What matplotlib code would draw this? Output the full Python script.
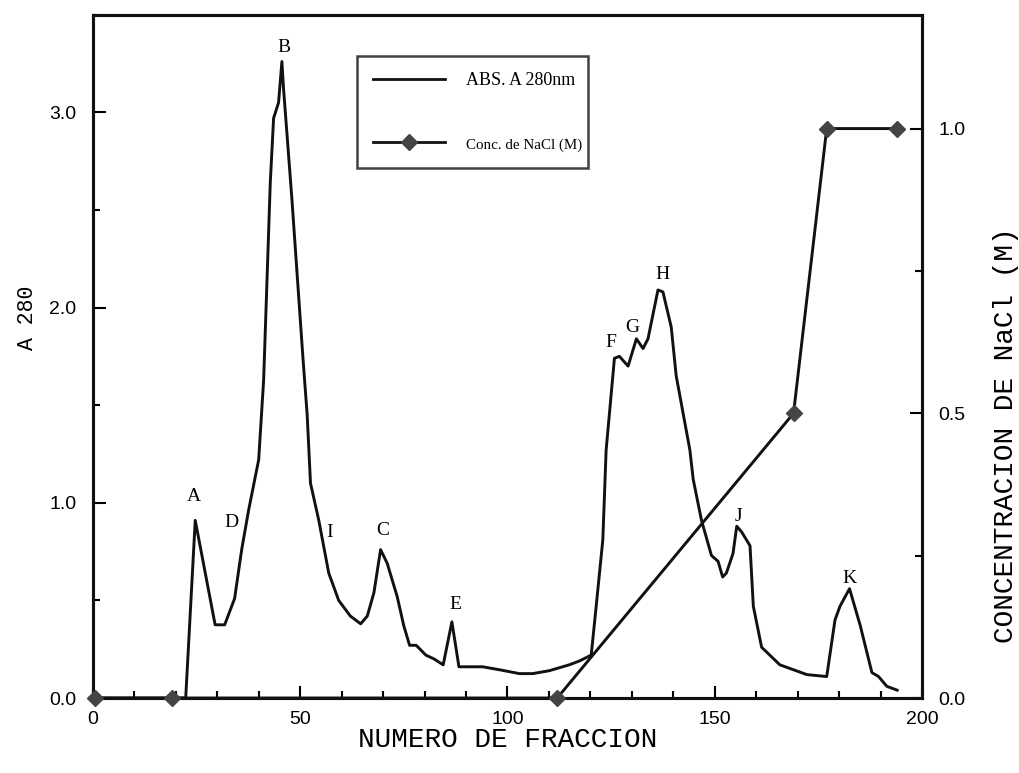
import matplotlib
matplotlib.use("Agg")
import matplotlib.pyplot as plt
from matplotlib.ticker import MultipleLocator, FormatStrFormatter
from matplotlib.lines import Line2D

# --- data ---
fraccion = [0, 22.4, 24.7, 29.5, 31.8, 34.2, 35.9, 37.6, 40.0, 41.2, 42.8, 43.6,
            44.8, 45.6, 46.0, 48.0, 50.7, 51.7, 52.5, 54.5, 56.9, 59.3, 62.1, 64.6,
            66.2, 67.8, 69.4, 71.0, 73.4, 75.0, 76.4, 78.0, 80.3, 82.3, 84.5, 86.6,
            88.3, 94.0, 98.0, 102.9, 106.1, 110.1, 114.9, 117.4, 120.2, 121.4, 123.0,
            123.8, 125.8, 127.0, 129.1, 131.1, 132.7, 133.9, 136.3, 137.5, 139.5,
            140.7, 144.0, 144.8, 146.8, 149.2, 150.8, 151.9, 152.8, 154.4, 155.3,
            156.5, 158.5, 159.3, 161.3, 165.7, 172.2, 177.0, 179.0, 180.2, 182.5,
            185.1, 187.9, 189.5, 191.5, 194.0]
abs280 = [0.0, 0.0, 0.91, 0.375, 0.375, 0.51, 0.76, 0.965, 1.22, 1.63, 2.64, 2.97,
          3.05, 3.26, 3.12, 2.56, 1.735, 1.45, 1.10, 0.91, 0.64, 0.50, 0.42, 0.38,
          0.42, 0.54, 0.76, 0.69, 0.52, 0.37, 0.27, 0.27, 0.22, 0.20, 0.17, 0.39,
          0.16, 0.16, 0.145, 0.125, 0.125, 0.14, 0.17, 0.19, 0.22, 0.47, 0.81,
          1.27, 1.74, 1.75, 1.70, 1.84, 1.79, 1.84, 2.09, 2.08, 1.90,
          1.65, 1.27, 1.12, 0.91, 0.73, 0.70, 0.62, 0.64, 0.74, 0.88,
          0.85, 0.78, 0.47, 0.26, 0.17, 0.12, 0.11, 0.40, 0.47, 0.56,
          0.37, 0.13, 0.11, 0.06, 0.04]

nacl_frac = [0.5, 19, 112, 169, 177, 194]
nacl_conc = [0.0, 0.0, 0.0, 0.5, 1.0, 1.0]

peak_labels = ["A", "B", "C", "D", "E", "F", "G", "H", "I", "J", "K"]
peak_x = [24.3, 46.0, 70.0, 33.5, 87.4, 124.9, 130.2, 137.4, 57.2, 155.8, 182.5]
peak_y = [1.03, 3.33, 0.86, 0.90, 0.48, 1.82, 1.90, 2.17, 0.85, 0.93, 0.61]

x_ticks = [0, 50, 100, 150, 200]
left_ticks = [0.0, 1.0, 2.0, 3.0]
right_ticks = [0.0, 0.5, 1.0]

serif = ["Liberation Serif", "DejaVu Serif"]
sans = ["Liberation Sans", "DejaVu Sans"]
mono = ["Liberation Mono", "DejaVu Sans Mono"]

fig = plt.figure(figsize=(10.2, 7.73), dpi=100)
ax = fig.add_axes([0.091, 0.097, 0.813, 0.884])
ax2 = ax.twinx()

ax.plot(fraccion, abs280, color="#111111", lw=2.1, solid_joinstyle="round")
ax2.plot(nacl_frac, nacl_conc, color="#111111", lw=2.1, marker="D",
         markersize=8, markerfacecolor="#444444", markeredgecolor="#444444",
         clip_on=False, zorder=5)

ax.set_xlim(0, 200)
ax.set_ylim(0, 3.5)
ax2.set_ylim(0, 1.2)

ax.set_xticks(x_ticks)
ax.xaxis.set_minor_locator(MultipleLocator(10))
ax.set_yticks(left_ticks)
ax.yaxis.set_minor_locator(MultipleLocator(0.5))
ax.yaxis.set_major_formatter(FormatStrFormatter("%.1f"))
ax2.set_yticks(right_ticks)
ax2.yaxis.set_minor_locator(MultipleLocator(0.25))
ax2.yaxis.set_major_formatter(FormatStrFormatter("%.1f"))

for a in (ax, ax2):
    for s in a.spines.values():
        s.set_linewidth(2.2)
        s.set_color("#111111")

ax.tick_params(axis="x", which="major", direction="in", length=9, width=1.5,
               pad=9, labelsize=14, top=False)
ax.tick_params(axis="x", which="minor", direction="in", length=5, width=1.5, top=False)
ax.tick_params(axis="y", which="major", direction="in", length=9, width=1.5,
               pad=12, labelsize=14, right=False)
ax.tick_params(axis="y", which="minor", direction="in", length=5, width=1.5, right=False)
ax2.tick_params(axis="y", which="major", direction="in", length=9, width=1.5,
                pad=12, labelsize=14)
ax2.tick_params(axis="y", which="minor", direction="in", length=5, width=1.5)

for lab in ax.get_xticklabels() + ax.get_yticklabels() + ax2.get_yticklabels():
    lab.set_fontfamily(sans)

ax.set_xlabel("NUMERO DE FRACCION", fontfamily=mono, fontsize=20)
ax.xaxis.set_label_coords(0.5, -0.042)
ax.set_ylabel("A 280", fontfamily=mono, fontsize=15.5)
ax.yaxis.set_label_coords(-0.066, 0.556)
ax2.set_ylabel("CONCENTRACION DE NaCl (M)", fontfamily=mono, fontsize=20,
               rotation=90)
ax2.yaxis.set_label_coords(1.086, 0.385)

for t, x, y in zip(peak_labels, peak_x, peak_y):
    ax.text(x, y, t, fontfamily=serif, fontsize=14, ha="center", va="center")

handles = [Line2D([], [], color="#111111", lw=2.0),
           Line2D([], [], color="#111111", lw=2.0, marker="D", markersize=8,
                  markerfacecolor="#444444", markeredgecolor="#444444")]
leg = ax2.legend(handles, ["ABS. A 280nm", "Conc. de NaCl (M)"],
                 loc="upper left", bbox_to_anchor=(0.318, 0.74, 0.279, 0.2),
                 mode="expand",
                 frameon=True, fancybox=False, edgecolor="#111111",
                 prop={"family": serif, "size": 13.0}, handlelength=4.0,
                 handletextpad=1.15, labelspacing=2.6, borderpad=0.9,
                 numpoints=1, borderaxespad=0)
leg.get_texts()[1].set_fontsize(10.8)
leg.get_frame().set_linewidth(1.8)
leg.set_zorder(10)

fig.savefig("out.png", dpi=100, facecolor="white")
